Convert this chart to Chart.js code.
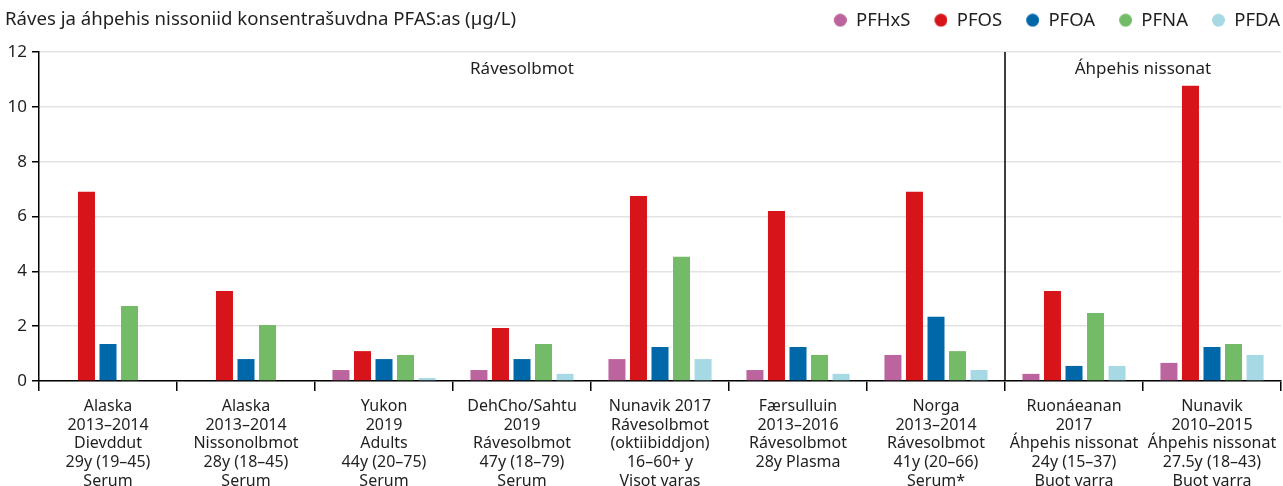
<!DOCTYPE html>
<html><head><meta charset="utf-8">
<script src="https://cdn.jsdelivr.net/npm/chart.js@4.4.1/dist/chart.umd.min.js"></script>
<style>html,body{margin:0;padding:0;background:#fff;} #wrap{width:1283px;height:486px;position:relative;}</style>
</head><body><div id="wrap"><canvas id="c" width="1283" height="486"></canvas></div>
<script>
const titleText = 'Ráves ja áhpehis nissoniid konsentrašuvdna PFAS:as (µg/L)';
const categories = [
  ['Alaska','2013–2014','Dievddut','29y (19–45)','Serum'],
  ['Alaska','2013–2014','Nissonolbmot','28y (18–45)','Serum'],
  ['Yukon','2019','Adults','44y (20–75)','Serum'],
  ['DehCho/Sahtu','2019','Rávesolbmot','47y (18–79)','Serum'],
  ['Nunavik 2017','Rávesolbmot','(oktiibiddjon)','16–60+ y','Visot varas'],
  ['Færsulluin','2013–2016','Rávesolbmot','28y Plasma'],
  ['Norga','2013–2014','Rávesolbmot','41y (20–66)','Serum*'],
  ['Ruonáeanan','2017','Áhpehis nissonat','24y (15–37)','Buot varra'],
  ['Nunavik','2010–2015','Áhpehis nissonat','27.5y (18–43)','Buot varra']
];
const seriesNames = ['PFHxS','PFOS','PFOA','PFNA','PFDA'];
const PFHxS = [null, null, 0.40, 0.40, 0.80, 0.40, 0.95, 0.26, 0.66];
const PFOS  = [6.90, 3.28, 1.09, 1.93, 6.75, 6.20, 6.90, 3.28, 10.77];
const PFOA  = [1.35, 0.80, 0.80, 0.80, 1.24, 1.24, 2.34, 0.55, 1.24];
const PFNA  = [2.74, 2.04, 0.95, 1.35, 4.53, 0.95, 1.09, 2.48, 1.35];
const PFDA  = [null, null, 0.11, 0.26, 0.80, 0.26, 0.40, 0.55, 0.95];
const yTicks = [0, 2, 4, 6, 8, 10, 12];
const groupLabels = ['Rávesolbmot', 'Áhpehis nissonat'];
const groupSplitAfter = 6;
const colors = ['#bc649d', '#d71419', '#0068a8', '#74bb68', '#a6d9e3'];

const FONT = "'Noto Sans', 'Open Sans', sans-serif";
Chart.defaults.font.family = FONT;
Chart.defaults.color = '#1f1f1f';

function dotImage(color) {
  const w = 36, h = 14;
  const c = document.createElement('canvas');
  c.width = w; c.height = h;
  const g = c.getContext('2d');
  g.fillStyle = color;
  g.beginPath(); g.arc(w - 6.5, 7, 6.5, 0, Math.PI * 2); g.fill();
  return c;
}
const dots = colors.map(dotImage);

const seriesValues = [PFHxS, PFOS, PFOA, PFNA, PFDA];
const datasets = seriesNames.map((n, i) => ({
  label: n,
  data: seriesValues[i],
  backgroundColor: colors[i],
  borderWidth: 0,
  categoryPercentage: 0.78,
  barPercentage: 0.79
}));

const annot = {
  id: 'annot',
  afterDraw(chart) {
    const {ctx, chartArea, scales: {x}} = chart;
    ctx.save();
    ctx.fillStyle = '#1f1f1f';
    ctx.textBaseline = 'middle';
    ctx.textAlign = 'left';
    ctx.font = '18.6px ' + FONT;
    ctx.fillText(titleText, 5, 20);
    const xDiv = (x.getPixelForValue(groupSplitAfter) + x.getPixelForValue(groupSplitAfter + 1)) / 2;
    ctx.strokeStyle = '#000';
    ctx.lineWidth = 1.5;
    ctx.beginPath();
    ctx.moveTo(xDiv, chartArea.top);
    ctx.lineTo(xDiv, chartArea.bottom);
    ctx.stroke();
    ctx.textAlign = 'center';
    ctx.font = '17px ' + FONT;
    ctx.fillText(groupLabels[0], (chartArea.left + xDiv) / 2, chartArea.top + 17);
    ctx.fillText(groupLabels[1], (xDiv + chartArea.right) / 2, chartArea.top + 17);
    ctx.restore();
  }
};

new Chart(document.getElementById('c'), {
  type: 'bar',
  data: { labels: categories, datasets },
  plugins: [annot],
  options: {
    responsive: false,
    animation: false,
    layout: { padding: { top: 10, left: 5, right: 2, bottom: 0 } },
    plugins: {
      tooltip: { enabled: false },
      legend: {
        position: 'top',
        align: 'end',
        labels: {
          usePointStyle: true,
          pointStyleWidth: 36,
          boxHeight: 18,
          padding: 1,
          font: { size: 18.5 },
          color: '#1f1f1f',
          generateLabels(chart) {
            const items = Chart.defaults.plugins.legend.labels.generateLabels(chart);
            items.forEach((it, i) => { it.pointStyle = dots[i]; });
            return items;
          }
        }
      },
      subtitle: {
        display: true, text: '', weight: 500,
        font: { size: 1, lineHeight: 1 },
        padding: { top: 0, bottom: 11.5 }
      }
    },
    scales: {
      x: {
        offset: true,
        grid: { display: true, drawOnChartArea: false, drawTicks: true, offset: true, color: '#000', lineWidth: 1.5, tickLength: 10 },
        border: { display: true, color: '#000', width: 1.5 },
        ticks: { autoSkip: false, maxRotation: 0, minRotation: 0, padding: 6, color: '#1f1f1f', font: { size: 16, lineHeight: 1.17 } },
        afterFit(scale) { scale.height = 105; }
      },
      y: {
        min: 0, max: 12,
        afterBuildTicks(scale) { scale.ticks = yTicks.map(v => ({ value: v })); },
        grid: { color: '#e3e3e3', lineWidth: 1.5, tickColor: '#000', tickLength: 7, tickWidth: 1.5 },
        border: { display: true, color: '#000', width: 1.5 },
        ticks: { padding: 5, color: '#1f1f1f', font: { size: 17 } },
        afterFit(scale) { scale.width = 34; }
      }
    }
  }
});
</script>
</body></html>
